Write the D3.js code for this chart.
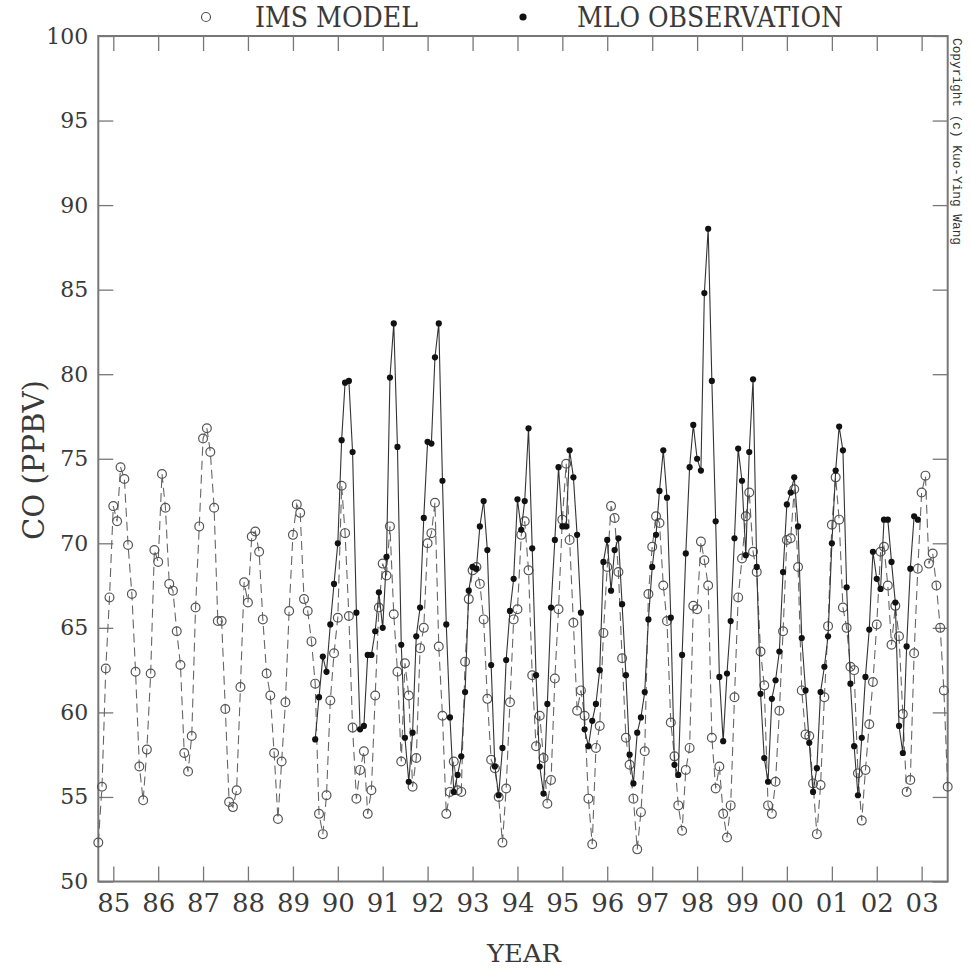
<!DOCTYPE html>
<html>
<head>
<meta charset="utf-8">
<script src="https://cdn.jsdelivr.net/npm/d3@7"></script>
<style>
body { margin: 0; background: #fff; }
svg { display: block; font-family: "DejaVu Serif", serif; }
</style>
</head>
<body>
<svg width="971" height="970"></svg>
<script>
"use strict";

// IMS model, monthly CO (ppbv), Sep 1984 .. Aug 2003
var modelStart = new Date(1984, 8, 1);
var imsModel = [
  52.3, 55.6, 62.6, 66.8,
  72.2, 71.3, 74.5, 73.8, 69.9, 67.0, 62.4, 56.8, 54.8, 57.8, 62.3, 69.6,   // 85
  68.9, 74.1, 72.1, 67.6, 67.2, 64.8, 62.8, 57.6, 56.5, 58.6, 66.2, 71.0,   // 86
  76.2, 76.8, 75.4, 72.1, 65.4, 65.4, 60.2, 54.7, 54.4, 55.4, 61.5, 67.7,   // 87
  66.5, 70.4, 70.7, 69.5, 65.5, 62.3, 61.0, 57.6, 53.7, 57.1, 60.6, 66.0,   // 88
  70.5, 72.3, 71.8, 66.7, 66.0, 64.2, 61.7, 54.0, 52.8, 55.1, 60.7, 63.5,   // 89
  65.6, 73.4, 70.6, 65.7, 59.1, 54.9, 56.6, 57.7, 54.0, 55.4, 61.0, 66.2,   // 90
  68.8, 68.1, 71.0, 65.8, 62.4, 57.1, 62.9, 61.0, 55.6, 57.3, 63.8, 65.0,   // 91
  70.0, 70.6, 72.4, 63.9, 59.8, 54.0, 55.3, 57.1, 55.4, 55.3, 63.0, 66.7,   // 92
  68.4, 68.6, 67.6, 65.5, 60.8, 57.2, 56.7, 55.0, 52.3, 55.5, 60.6, 65.5,   // 93
  66.1, 70.5, 71.3, 68.4, 62.2, 58.0, 59.8, 57.3, 54.6, 56.0, 62.0, 66.1,   // 94
  71.4, 74.7, 70.2, 65.3, 60.1, 61.3, 59.8, 54.9, 52.2, 57.9, 59.2, 64.7,   // 95
  68.6, 72.2, 71.5, 68.3, 63.2, 58.5, 56.9, 54.9, 51.9, 54.1, 57.7, 67.0,   // 96
  69.8, 71.6, 71.2, 67.5, 65.4, 59.4, 57.4, 54.5, 53.0, 56.6, 57.9, 66.3,   // 97
  66.1, 70.1, 69.0, 67.5, 58.5, 55.5, 56.8, 54.0, 52.6, 54.5, 60.9, 66.8,   // 98
  69.1, 71.6, 73.0, 69.5, 68.3, 63.6, 61.6, 54.5, 54.0, 55.9, 60.1, 64.8,   // 99
  70.2, 70.3, 73.2, 68.6, 61.3, 58.7, 58.6, 55.8, 52.8, 55.7, 60.9, 65.1,   // 00
  71.1, 73.9, 71.4, 66.2, 65.0, 62.7, 62.5, 56.4, 53.6, 56.6, 59.3, 61.8,   // 01
  65.2, 69.5, 69.8, 67.5, 64.0, 66.3, 64.5, 59.9, 55.3, 56.0, 63.5, 68.5,   // 02
  73.0, 74.0, 68.8, 69.4, 67.5, 65.0, 61.3, 55.6                            // 03
];

// MLO observation, monthly CO (ppbv), Jul 1989 .. Dec 2002
var obsStart = new Date(1989, 6, 1);
var mloObs = [
  58.4, 60.9, 63.3, 62.4, 65.2, 67.6,                                        // 89
  70.0, 76.1, 79.5, 79.6, 75.4, 65.9, 59.0, 59.2, 63.4, 63.4, 64.8, 67.1,   // 90
  65.0, 69.2, 79.8, 83.0, 75.7, 64.0, 58.5, 55.9, 58.8, 64.5, 66.2, 71.5,   // 91
  76.0, 75.9, 81.0, 83.0, 73.7, 65.2, 59.7, 55.3, 56.3, 57.4, 61.2, 67.2,   // 92
  68.6, 68.5, 71.0, 72.5, 69.6, 62.8, 56.8, 55.1, 57.9, 63.1, 66.0, 67.9,   // 93
  72.6, 70.8, 72.5, 76.8, 69.7, 62.2, 56.8, 55.2, 60.5, 66.2, 70.2, 74.5,   // 94
  71.0, 71.0, 75.5, 73.9, 70.5, 65.9, 59.0, 58.0, 59.5, 60.5, 62.5, 68.9,   // 95
  70.2, 67.2, 69.6, 70.3, 66.4, 62.2, 57.5, 55.8, 58.8, 59.7, 61.2, 65.5,   // 96
  68.6, 70.5, 73.1, 75.5, 72.7, 65.6, 56.9, 56.3, 63.4, 69.4, 74.5, 77.0,   // 97
  75.0, 74.3, 84.8, 88.6, 79.6, 71.3, 62.1, 58.3, 62.3, 65.4, 70.3, 75.6,   // 98
  73.7, 69.3, 75.4, 79.7, 68.6, 61.1, 57.3, 55.9, 60.8, 61.9, 63.6, 68.3,   // 99
  72.3, 73.0, 73.9, 71.0, 64.4, 61.3, 58.2, 55.3, 56.7, 61.2, 62.7, 64.5,   // 00
  70.0, 74.3, 76.9, 75.5, 67.4, 61.7, 58.0, 55.1, 58.5, 62.1, 64.9, 69.5,   // 01
  67.9, 67.3, 71.4, 71.4, 68.9, 66.5, 59.2, 57.6, 63.9, 68.5, 71.6, 71.4    // 02
];

var yearTicks = d3.range(1985, 2004);
var coTicks = d3.range(50, 101, 5);

var svg = d3.select("svg"),
    margin = {top: 36, right: 23.3, bottom: 88.5, left: 98.3},
    width = +svg.attr("width") - margin.left - margin.right,
    height = +svg.attr("height") - margin.top - margin.bottom;

var toPoints = function (start, values) {
  return values.map(function (v, i) {
    return {date: d3.timeMonth.offset(start, i), value: v};
  });
};
var model = toPoints(modelStart, imsModel),
    obs = toPoints(obsStart, mloObs);

var x = d3.scaleTime()
    .domain([model[0].date, model[model.length - 1].date])
    .range([0, width]);

var y = d3.scaleLinear()
    .domain([50, 100])
    .range([height, 0]);

var g = svg.append("g").attr("transform", "translate(" + margin.left + "," + margin.top + ")");

var tickDates = yearTicks.map(function (yr) { return new Date(yr, 0, 1); });

// axes: ticks point inward on all four sides
var xb = g.append("g").attr("transform", "translate(0," + height + ")")
    .call(d3.axisBottom(x).tickValues(tickDates).tickFormat(d3.timeFormat("%y"))
      .tickSizeInner(-15).tickSizeOuter(0).tickPadding(12));
var xt = g.append("g")
    .call(d3.axisTop(x).tickValues(tickDates).tickFormat("")
      .tickSizeInner(-15).tickSizeOuter(0));
var yl = g.append("g")
    .call(d3.axisLeft(y).tickValues(coTicks)
      .tickSizeInner(-15).tickSizeOuter(0).tickPadding(10));
var yr = g.append("g").attr("transform", "translate(" + width + ",0)")
    .call(d3.axisRight(y).tickValues(coTicks).tickFormat("")
      .tickSizeInner(-15).tickSizeOuter(0));

[xb, xt, yl, yr].forEach(function (a) {
  a.select(".domain").remove();
  a.selectAll(".tick line").attr("stroke", "#777").attr("stroke-width", 1.3);
  a.selectAll("text").attr("fill", "#3a3a3a").attr("font-family", "DejaVu Serif");
});
xb.selectAll("text").attr("font-size", 26);
yl.selectAll("text").attr("font-size", 22);

g.append("rect")
    .attr("width", width)
    .attr("height", height)
    .attr("fill", "none")
    .attr("stroke", "#777")
    .attr("stroke-width", 2);

var line = d3.line()
    .x(function (d) { return x(d.date); })
    .y(function (d) { return y(d.value); });

// model: dashed line through open circles
g.append("path")
    .datum(model)
    .attr("d", line)
    .attr("fill", "none")
    .attr("stroke", "#666")
    .attr("stroke-width", 1.1)
    .attr("stroke-dasharray", "9,5");

g.append("g").selectAll("circle")
    .data(model)
    .enter().append("circle")
    .attr("cx", function (d) { return x(d.date); })
    .attr("cy", function (d) { return y(d.value); })
    .attr("r", 4.4)
    .attr("fill", "none")
    .attr("stroke", "#555")
    .attr("stroke-width", 1.2);

// observations: solid line, filled dots
g.append("path")
    .datum(obs)
    .attr("d", line)
    .attr("fill", "none")
    .attr("stroke", "#333")
    .attr("stroke-width", 1.1);

g.append("g").selectAll("circle")
    .data(obs)
    .enter().append("circle")
    .attr("cx", function (d) { return x(d.date); })
    .attr("cy", function (d) { return y(d.value); })
    .attr("r", 3.1)
    .attr("fill", "#111");

// legend
svg.append("circle").attr("cx", 206).attr("cy", 17).attr("r", 4.5)
    .attr("fill", "none").attr("stroke", "#555").attr("stroke-width", 1.2);
svg.append("text").attr("x", 255).attr("y", 27)
    .attr("font-size", 27).attr("fill", "#3a3a3a")
    .attr("textLength", 163).attr("lengthAdjust", "spacingAndGlyphs")
    .text("IMS MODEL");
svg.append("circle").attr("cx", 523).attr("cy", 17).attr("r", 3.6).attr("fill", "#111");
svg.append("text").attr("x", 577).attr("y", 27)
    .attr("font-size", 27).attr("fill", "#3a3a3a")
    .attr("textLength", 266).attr("lengthAdjust", "spacingAndGlyphs")
    .text("MLO OBSERVATION");

// axis titles
svg.append("text")
    .attr("transform", "translate(44,460) rotate(-90)")
    .attr("text-anchor", "middle")
    .attr("font-size", 29).attr("fill", "#3a3a3a")
    .attr("textLength", 160).attr("lengthAdjust", "spacingAndGlyphs")
    .text("CO (PPBV)");

svg.append("text")
    .attr("x", 524).attr("y", 962)
    .attr("text-anchor", "middle")
    .attr("font-size", 24).attr("fill", "#3a3a3a")
    .attr("textLength", 74).attr("lengthAdjust", "spacingAndGlyphs")
    .text("YEAR");

svg.append("text")
    .attr("transform", "translate(953,38) rotate(90)")
    .attr("font-family", "Liberation Mono")
    .attr("font-size", 12.5).attr("fill", "#333")
    .attr("textLength", 207).attr("lengthAdjust", "spacingAndGlyphs")
    .text("Copyright (c) Kuo-Ying Wang");
</script>
</body>
</html>
